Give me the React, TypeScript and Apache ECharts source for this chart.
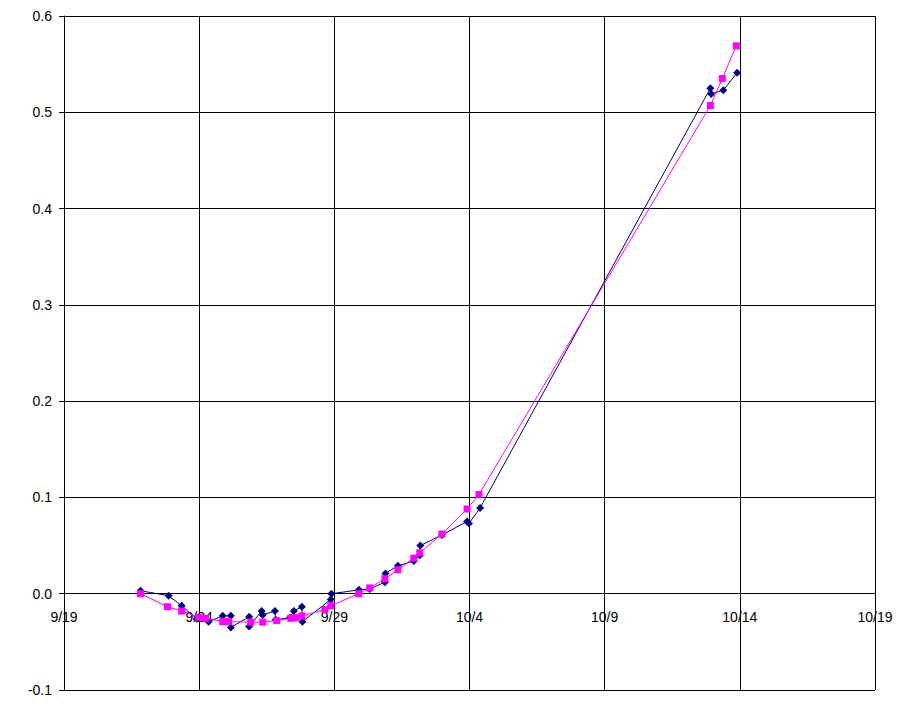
import React, { useEffect, useRef } from "react";
import * as echarts from "echarts";

// x values: days after 9/19
const xTickLabels = ["9/19", "9/24", "9/29", "10/4", "10/9", "10/14", "10/19"];
const yTickValues = [-0.1, 0, 0.1, 0.2, 0.3, 0.4, 0.5, 0.6];

const blueDays = [
  2.83, 3.87, 4.35, 4.91, 5.35, 5.87, 6.17, 6.17, 6.85, 6.85, 7.31, 7.35, 7.8, 7.83,
  8.35, 8.5, 8.8, 8.82, 9.87, 9.89, 10.91, 11.31, 11.87, 11.89, 12.35, 12.94, 13.16,
  13.18, 13.98, 14.91, 14.98, 15.39, 23.91, 23.94, 24.39, 24.9,
];
const blueValues = [
  0.003, -0.002, -0.0125, -0.026, -0.029, -0.023, -0.023, -0.035, -0.024, -0.034,
  -0.018, -0.022, -0.018, -0.027, -0.025, -0.018, -0.0135, -0.029, -0.006, 0.0, 0.004,
  0.005, 0.012, 0.021, 0.029, 0.034, 0.04, 0.05, 0.061, 0.075, 0.073, 0.089, 0.525,
  0.519, 0.523, 0.541,
];

const magentaDays = [
  2.83, 3.83, 4.35, 4.98, 5.24, 5.87, 6.09, 6.91, 7.35, 7.87, 8.39, 8.57, 8.8, 9.65,
  9.87, 10.9, 11.31, 11.87, 12.35, 12.94, 13.16, 13.98, 14.91, 15.35, 23.91, 24.35,
  24.87,
];
const magentaValues = [
  0.0, -0.0135, -0.018, -0.0245, -0.0255, -0.029, -0.029, -0.0295, -0.0295, -0.028,
  -0.0255, -0.025, -0.023, -0.0165, -0.0125, 0.0, 0.006, 0.0155, 0.025, 0.037, 0.0425,
  0.062, 0.088, 0.103, 0.507, 0.535, 0.569,
];

const FONT = "'Liberation Sans', Arial, sans-serif";
const GRID_TOP = 16;
const GRID_BOTTOM = 34;
const CHART_H = 724;

export default function App() {
  const ref = useRef<HTMLDivElement>(null);
  useEffect(() => {
    if (!ref.current) return;
    const chart = echarts.init(ref.current, undefined, { renderer: "svg" });
    const blueData = blueDays.map((d, i) => [d, blueValues[i]]);
    const magentaData = magentaDays.map((d, i) => [d, magentaValues[i]]);
    const yMin = yTickValues[0];
    const yMax = yTickValues[yTickValues.length - 1];
    const plotH = CHART_H - GRID_TOP - GRID_BOTTOM;
    const zeroOffset = -Math.round((plotH * (0 - yMin)) / (yMax - yMin));
    chart.setOption({
      animation: false,
      backgroundColor: "#ffffff",
      grid: { left: 64, right: 24, top: GRID_TOP, bottom: GRID_BOTTOM, containLabel: false },
      xAxis: {
        type: "value",
        min: 0,
        max: 30,
        interval: 5,
        position: "bottom",
        offset: zeroOffset,
        axisLine: { show: false, onZero: false },
        axisTick: { show: false },
        splitLine: { show: true, lineStyle: { color: "#000", width: 1 } },
        axisLabel: {
          show: true,
          margin: 16,
          color: "#000",
          fontFamily: FONT,
          fontSize: 14,
          showMinLabel: true,
          showMaxLabel: true,
          hideOverlap: false,
          formatter: (v: number) => xTickLabels[Math.round(v / 5)] ?? "",
        },
      },
      yAxis: {
        type: "value",
        min: yMin,
        max: yMax,
        interval: 0.1,
        axisLine: { show: true, onZero: false, lineStyle: { color: "#000", width: 1 } },
        axisTick: { show: true, inside: false, length: 5, lineStyle: { color: "#000" } },
        splitLine: { show: true, lineStyle: { color: "#000", width: 1 } },
        axisLabel: {
          show: true,
          margin: 12,
          color: "#000",
          fontFamily: FONT,
          fontSize: 14,
          showMinLabel: true,
          showMaxLabel: true,
          formatter: (v: number) => (Math.abs(v) < 1e-9 ? 0 : v).toFixed(1),
        },
      },
      series: [
        {
          name: "blue",
          type: "line",
          data: blueData,
          symbol: "diamond",
          symbolSize: 8,
          showAllSymbol: true,
          itemStyle: { color: "#000080" },
          lineStyle: { color: "#000080", width: 1 },
          z: 3,
        },
        {
          name: "magenta",
          type: "line",
          data: magentaData,
          symbol: "rect",
          symbolSize: 7,
          showAllSymbol: true,
          itemStyle: { color: "#ff00ff" },
          lineStyle: { color: "#ff00ff", width: 1 },
          z: 4,
        },
      ],
    });
    return () => chart.dispose();
  }, []);
  return (
    <div
      ref={ref}
      style={{ position: "fixed", left: 0, top: 0, width: 899, height: 724, background: "#fff" }}
    />
  );
}
